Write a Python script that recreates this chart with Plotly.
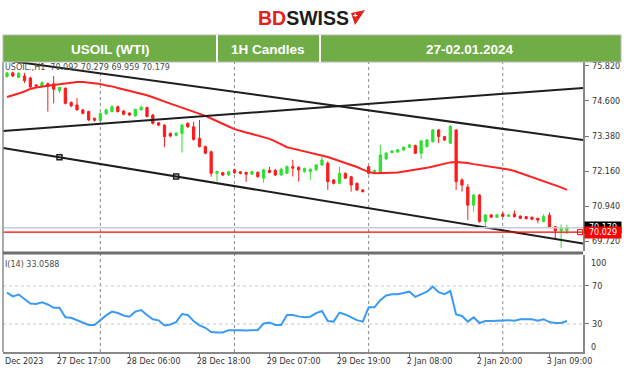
import plotly.graph_objects as go

W, H = 624, 376

# ---------------- data ----------------
BAR_INDEX = list(range(97))  # 1H bars, 27 Dec 08:00 ... 3 Jan 12:00

OPEN = [75.45, 75.58, 75.42, 75.47, 75.40, 75.16, 75.12, 75.20, 75.20, 74.96,
        75.04, 74.55, 74.46, 74.29, 74.23, 74.00, 73.92, 74.15, 74.23, 74.40,
        74.25, 74.18, 74.08, 74.29, 74.37, 74.11, 73.84, 73.76, 73.47, 73.40,
        73.47, 73.82, 73.70, 73.30, 73.01, 72.83, 72.08, 72.10, 72.02, 72.20,
        72.13, 72.11, 72.05, 72.11, 71.91, 72.18, 72.18, 72.02, 72.08, 72.31,
        72.29, 72.14, 72.14, 72.20, 72.37, 72.43, 71.85, 71.73, 72.08, 71.96,
        71.73, 71.50, 72.31, 72.10, 72.08, 72.58, 72.80, 72.82, 72.89, 72.99,
        73.05, 72.78, 73.01, 73.18, 73.59, 73.36, 73.13, 73.59, 71.85, 71.60,
        70.97, 71.32, 70.40, 70.63, 70.55, 70.66, 70.58, 70.66, 70.59, 70.57,
        70.55, 70.51, 70.40, 70.62, 70.22, 70.08, 70.092]
HIGH = [75.62, 75.62, 75.60, 75.58, 75.45, 75.18, 75.28, 75.25, 75.47, 75.10,
        75.08, 74.58, 74.70, 74.32, 74.26, 74.02, 74.20, 74.33, 74.45, 74.44,
        74.28, 74.20, 74.33, 74.45, 74.40, 74.15, 73.86, 73.78, 73.50, 73.52,
        73.80, 73.86, 73.88, 73.94, 73.05, 72.87, 72.17, 72.13, 72.17, 72.24,
        72.16, 72.14, 72.17, 72.15, 72.24, 72.30, 72.24, 72.27, 72.36, 72.55,
        72.32, 72.28, 72.25, 72.40, 72.66, 72.50, 71.88, 72.31, 72.11, 71.99,
        71.76, 71.53, 72.34, 72.21, 73.07, 72.82, 72.89, 72.93, 73.02, 73.10,
        73.08, 73.24, 73.28, 73.62, 73.62, 73.38, 73.76, 73.62, 71.91, 71.70,
        71.36, 71.36, 70.66, 70.66, 70.66, 70.72, 70.65, 70.78, 70.61, 70.59,
        70.57, 70.53, 70.66, 70.72, 70.25, 70.30, 70.279]
LOW = [75.42, 75.43, 75.40, 75.23, 75.05, 75.08, 75.10, 74.23, 74.52, 74.87,
       74.48, 74.38, 74.27, 74.13, 73.90, 73.88, 73.90, 74.12, 74.20, 74.20,
       74.10, 74.08, 74.05, 74.27, 74.03, 73.78, 73.72, 73.00, 73.33, 73.36,
       72.80, 73.66, 73.22, 72.98, 72.74, 71.96, 71.80, 71.98, 71.98, 72.06,
       72.04, 71.78, 72.02, 71.93, 71.75, 72.08, 71.99, 71.99, 72.05, 71.97,
       71.79, 72.10, 71.85, 72.16, 72.34, 71.50, 71.69, 71.70, 71.88, 71.44,
       71.46, 71.41, 72.04, 72.07, 72.05, 72.55, 72.78, 72.80, 72.87, 72.96,
       72.75, 72.58, 72.98, 73.15, 73.13, 73.21, 73.10, 71.50, 71.44, 70.45,
       70.74, 70.36, 70.22, 70.52, 70.52, 70.55, 70.56, 70.54, 70.48, 70.47,
       70.45, 70.34, 70.37, 70.19, 69.82, 69.48, 69.959]
CLOSE = [75.58, 75.47, 75.57, 75.31, 75.09, 75.12, 75.24, 75.11, 75.01, 75.07,
         74.52, 74.43, 74.29, 74.17, 73.94, 73.93, 74.17, 74.29, 74.40, 74.23,
         74.14, 74.11, 74.31, 74.38, 74.06, 73.82, 73.76, 73.36, 73.38, 73.48,
         73.76, 73.70, 73.26, 73.01, 72.78, 72.08, 72.14, 72.02, 72.13, 72.10,
         72.08, 72.05, 72.14, 71.96, 72.20, 72.11, 72.02, 72.22, 72.31, 72.26,
         72.20, 72.25, 72.22, 72.37, 72.54, 71.79, 71.73, 72.08, 71.91, 71.67,
         71.50, 71.44, 72.08, 72.18, 72.72, 72.78, 72.86, 72.90, 72.99, 73.07,
         72.78, 73.21, 73.24, 73.59, 73.36, 73.24, 73.71, 71.79, 71.67, 70.97,
         71.32, 70.40, 70.63, 70.55, 70.63, 70.58, 70.63, 70.57, 70.51, 70.50,
         70.48, 70.45, 70.57, 70.20, 70.08, 70.16, 70.179]

MA = [74.74, 74.79, 74.86, 74.93, 75.02, 75.07, 75.11, 75.13, 75.16, 75.19,
      75.22, 75.24, 75.26, 75.26, 75.24, 75.22, 75.19, 75.14, 75.11, 75.05,
      75.00, 74.96, 74.91, 74.86, 74.80, 74.73, 74.65, 74.58, 74.51, 74.44,
      74.37, 74.30, 74.23, 74.16, 74.08, 73.99, 73.89, 73.80, 73.71, 73.62,
      73.55, 73.50, 73.45, 73.40, 73.35, 73.28, 73.19, 73.08, 72.99, 72.94,
      72.89, 72.84, 72.81, 72.75, 72.70, 72.65, 72.58, 72.51, 72.46, 72.39,
      72.30, 72.21, 72.13, 72.08, 72.08, 72.09, 72.10, 72.11, 72.14, 72.17,
      72.20, 72.24, 72.27, 72.32, 72.37, 72.42, 72.46, 72.47, 72.46, 72.44,
      72.40, 72.37, 72.33, 72.30, 72.27, 72.25, 72.21, 72.16, 72.09, 72.02,
      71.95, 71.88, 71.81, 71.74, 71.67, 71.59, 71.50]

RSI = [63.0, 59.0, 61.0, 56.0, 51.5, 51.0, 52.8, 50.5, 47.0, 47.0,
       37.0, 36.5, 34.0, 31.5, 29.0, 29.0, 34.5, 39.0, 43.0, 41.5,
       39.0, 37.7, 43.0, 44.7, 39.5, 35.0, 33.8, 28.5, 29.5, 32.0,
       40.5, 39.5, 33.0, 28.5, 26.0, 21.5, 21.0, 21.0, 23.5, 23.7,
       23.3, 23.0, 23.0, 23.7, 30.5, 31.4, 29.0, 29.0, 39.5, 39.5,
       38.0, 37.0, 37.7, 41.5, 43.7, 33.0, 32.5, 42.0, 40.0, 37.0,
       34.0, 32.5, 47.5, 47.5, 55.0, 60.0, 61.3, 61.3, 62.5, 64.0,
       58.5, 61.0, 64.0, 69.3, 63.5, 61.3, 64.7, 40.0, 38.4, 32.5,
       37.0, 31.0, 33.0, 33.0, 33.5, 34.0, 34.0, 33.5, 35.0, 35.0,
       35.0, 33.5, 35.0, 32.0, 31.0, 31.0, 33.06]

X_LABELS = ["27 Dec 17:00", "28 Dec 06:00", "28 Dec 18:00", "29 Dec 07:00",
            "29 Dec 19:00", "2 Jan 08:00", "2 Jan 20:00", "3 Jan 09:00"]
X_LABEL_BARS = [9, 21, 33, 45, 57, 69, 81, 93]
DAY_SEPARATOR_BARS = [16, 39, 62, 85]
PRICE_TICKS = [75.820, 74.600, 73.380, 72.160, 70.940, 69.720]
RSI_TICKS = [30, 70]
RSI_LEVELS = [30, 70]

# trend lines: (bar_a, price_a, bar_b, price_b)
TRENDLINES = [
    (0, 76.01, 96, 73.32),    # upper falling channel line
    (9, 72.64, 29, 71.97),    # lower falling channel line
    (0, 73.564, 96, 75.013),  # rising line
]
ANCHOR_BARS = [9, 29]
ANCHOR_PRICES = [72.64, 71.97]

BID = 70.029
ASK = 70.179
INFO_TEXT = "USOIL.,H1  70.092 70.279 69.959 70.179"
RSI_TEXT = "I(14) 33.0588"

HEADER_CELLS = ["USOIL (WTI)", "1H Candles", "27-02.01.2024"]

# ---------------- geometry helpers ----------------
def px(x):
    return x / W


def py(y):
    return 1 - y / H


XMIN, XMAX = -0.686, 98.75
PRICE_RANGE = [69.372, 75.959]
RSI_RANGE = [0.5, 102.6]

GREEN = "#2fe02f"
RED = "#ff1a1a"
FONT = "DejaVu Sans"

fig = go.Figure()

# day separators (below traces)
shapes = []
for b in DAY_SEPARATOR_BARS:
    shapes.append(dict(type="line", xref="x", yref="paper", x0=b, x1=b,
                       y0=py(352), y1=py(62), layer="below",
                       line=dict(color="#8a8a8a", width=1, dash="dot")))
for lv in RSI_LEVELS:
    shapes.append(dict(type="line", xref="paper", yref="y2", x0=px(3), x1=px(583),
                       y0=lv, y1=lv, layer="below",
                       line=dict(color="#c8c8c8", width=1, dash="dot")))

# candles
fig.add_trace(go.Candlestick(
    x=BAR_INDEX, open=OPEN, high=HIGH, low=LOW, close=CLOSE,
    increasing=dict(line=dict(color=GREEN, width=1), fillcolor=GREEN),
    decreasing=dict(line=dict(color=RED, width=1), fillcolor=RED),
    whiskerwidth=0, xaxis="x", yaxis="y", hoverinfo="skip", showlegend=False))

# moving average
fig.add_trace(go.Scatter(x=BAR_INDEX, y=MA, mode="lines", xaxis="x", yaxis="y",
                         line=dict(color="#ff2222", width=2), hoverinfo="skip",
                         showlegend=False))

# trend lines, extended over the visible range
for (b0, p0, b1, p1) in TRENDLINES:
    slope = (p1 - p0) / (b1 - b0)
    xs = [XMIN, XMAX]
    ys = [p0 + slope * (x - b0) for x in xs]
    fig.add_trace(go.Scatter(x=xs, y=ys, mode="lines", xaxis="x", yaxis="y",
                             line=dict(color="#1e1e1e", width=2), hoverinfo="skip",
                             showlegend=False))
fig.add_trace(go.Scatter(x=ANCHOR_BARS, y=ANCHOR_PRICES, mode="markers", xaxis="x", yaxis="y",
                         marker=dict(symbol="square-open", size=5, color="#1e1e1e",
                                     line=dict(width=1.5)),
                         hoverinfo="skip", showlegend=False))

# ask / bid lines
fig.add_trace(go.Scatter(x=[XMIN, XMAX], y=[ASK, ASK], mode="lines", xaxis="x", yaxis="y",
                         line=dict(color="#c4ccd6", width=1.5), hoverinfo="skip",
                         showlegend=False))
fig.add_trace(go.Scatter(x=[XMIN, XMAX], y=[BID, BID], mode="lines", xaxis="x", yaxis="y",
                         line=dict(color="#ff0000", width=1.2), hoverinfo="skip",
                         showlegend=False))
fig.add_trace(go.Scatter(x=[XMAX - 0.5], y=[BID], mode="markers", xaxis="x", yaxis="y",
                         marker=dict(symbol="square-open", size=5, color="#ff0000"),
                         hoverinfo="skip", showlegend=False, cliponaxis=False))

# RSI
fig.add_trace(go.Scatter(x=BAR_INDEX, y=RSI, mode="lines", xaxis="x", yaxis="y2",
                         line=dict(color="#3a9bf5", width=2), hoverinfo="skip",
                         showlegend=False))

# frame / header shapes (above)
shapes += [
    dict(type="line", xref="paper", yref="paper", x0=px(3), x1=px(3), y0=py(352), y1=py(62),
         layer="above", line=dict(color="#8c8c8c", width=1.5)),
    dict(type="rect", xref="paper", yref="paper", x0=px(3), x1=px(583), y0=py(254.5), y1=py(251.5),
         layer="above", fillcolor="#6e6e6e", line=dict(width=0)),
    dict(type="rect", xref="paper", yref="paper", x0=px(3), x1=px(621), y0=py(62), y1=py(35),
         layer="above", fillcolor="#70ad47", line=dict(color="#b8b8b8", width=1)),
    dict(type="line", xref="paper", yref="paper", x0=px(217), x1=px(217), y0=py(62), y1=py(35),
         layer="above", line=dict(color="#ffffff", width=2)),
    dict(type="line", xref="paper", yref="paper", x0=px(320), x1=px(320), y0=py(62), y1=py(35),
         layer="above", line=dict(color="#ffffff", width=2)),
    # logo mark
    dict(type="path", xref="paper", yref="paper", layer="above",
         path=f"M {px(351)},{py(13)} L {px(365)},{py(10)} L {px(355)},{py(25)} Z",
         fillcolor="#e2231a", line=dict(width=0)),
]

annotations = [
    dict(text="<b><span style='color:#e2231a'>BD</span><span style='color:#1d1d1b'>SWISS</span></b>",
         x=px(303), y=py(18), xref="paper", yref="paper", showarrow=False,
         font=dict(family="Liberation Sans", size=19.5), xanchor="center", yanchor="middle"),
    dict(text="<b>+</b>", x=px(355), y=py(15.5), xref="paper", yref="paper", showarrow=False,
         font=dict(family="Liberation Sans", size=8, color="#ffffff"), xanchor="center", yanchor="middle"),
]
for txt, cx in zip(HEADER_CELLS, [110, 268, 470]):
    annotations.append(dict(text=f"<b>{txt}</b>", x=px(cx), y=py(49), xref="paper", yref="paper",
                            showarrow=False, xanchor="center", yanchor="middle",
                            font=dict(family="Liberation Sans", size=13.5, color="#ffffff")))

annotations += [
    dict(text=INFO_TEXT, x=px(3), y=py(67), xref="paper", yref="paper", showarrow=False,
         xanchor="left", yanchor="middle", font=dict(family=FONT, size=8, color="#4a4a4a")),
    dict(text=RSI_TEXT, x=px(3), y=py(264), xref="paper", yref="paper", showarrow=False,
         xanchor="left", yanchor="middle", font=dict(family=FONT, size=8, color="#4a4a4a")),
    dict(text="100", x=px(589), y=py(263), xref="paper", yref="paper", showarrow=False,
         xanchor="left", yanchor="middle", font=dict(family=FONT, size=8, color="#333333")),
    dict(text="0", x=px(589), y=py(347), xref="paper", yref="paper", showarrow=False,
         xanchor="left", yanchor="middle", font=dict(family=FONT, size=8, color="#333333")),
    dict(text="Dec 2023", x=px(3), y=py(361), xref="paper", yref="paper", showarrow=False,
         xanchor="left", yanchor="middle", font=dict(family=FONT, size=8, color="#333333")),
    dict(text=f"{ASK:.3f}", x=px(584), y=ASK, xref="paper", yref="y", showarrow=False,
         xanchor="left", yanchor="middle", bgcolor="#000000", borderpad=1, width=34,
         font=dict(family=FONT, size=8, color="#ffffff")),
    dict(text=f"{BID:.3f}", x=px(584), y=BID, xref="paper", yref="y", showarrow=False,
         xanchor="left", yanchor="middle", bgcolor="#ff0000", borderpad=1, width=34,
         font=dict(family=FONT, size=8, color="#ffffff")),
]

axis_font = dict(family=FONT, size=8, color="#333333")

fig.update_layout(
    width=W, height=H, autosize=False,
    margin=dict(l=0, r=0, t=0, b=0, pad=0),
    paper_bgcolor="#ffffff", plot_bgcolor="#ffffff",
    showlegend=False, boxgap=0.45,
    shapes=shapes, annotations=annotations,
    xaxis=dict(domain=[px(3), px(583)], range=[XMIN, XMAX], anchor="y2", automargin=False,
               tickvals=X_LABEL_BARS, ticktext=X_LABELS, ticks="outside", ticklen=4,
               tickcolor="#777777", ticklabelposition="outside right", ticklabelshift=-4,
               ticklabelstandoff=1, tickfont=axis_font,
               showline=True, linecolor="#888888", linewidth=1.5, showgrid=False,
               zeroline=False, rangeslider=dict(visible=False), fixedrange=True),
    yaxis=dict(domain=[py(251), py(62)], range=PRICE_RANGE, anchor="x", side="right",
               automargin=False,
               tickvals=PRICE_TICKS, ticktext=[f"{v:.3f}" for v in PRICE_TICKS],
               ticks="outside", ticklen=4, tickcolor="#777777", tickfont=axis_font,
               ticklabelstandoff=2,
               showline=True, linecolor="#888888", linewidth=1.5, showgrid=False,
               zeroline=False, fixedrange=True),
    yaxis2=dict(domain=[py(352), py(255)], range=RSI_RANGE, anchor="x", side="right",
                automargin=False,
                tickvals=RSI_TICKS, ticktext=[str(v) for v in RSI_TICKS],
                ticks="outside", ticklen=4, tickcolor="#777777", tickfont=axis_font,
                ticklabelstandoff=2,
                showline=True, linecolor="#888888", linewidth=1.5, showgrid=False,
                zeroline=False, fixedrange=True),
)

fig.write_html("out.html",
               config={"displayModeBar": False, "staticPlot": True, "responsive": False},
               post_script="document.documentElement.style.overflow='hidden';"
                           "document.body.style.margin='0';document.body.style.overflow='hidden';")
